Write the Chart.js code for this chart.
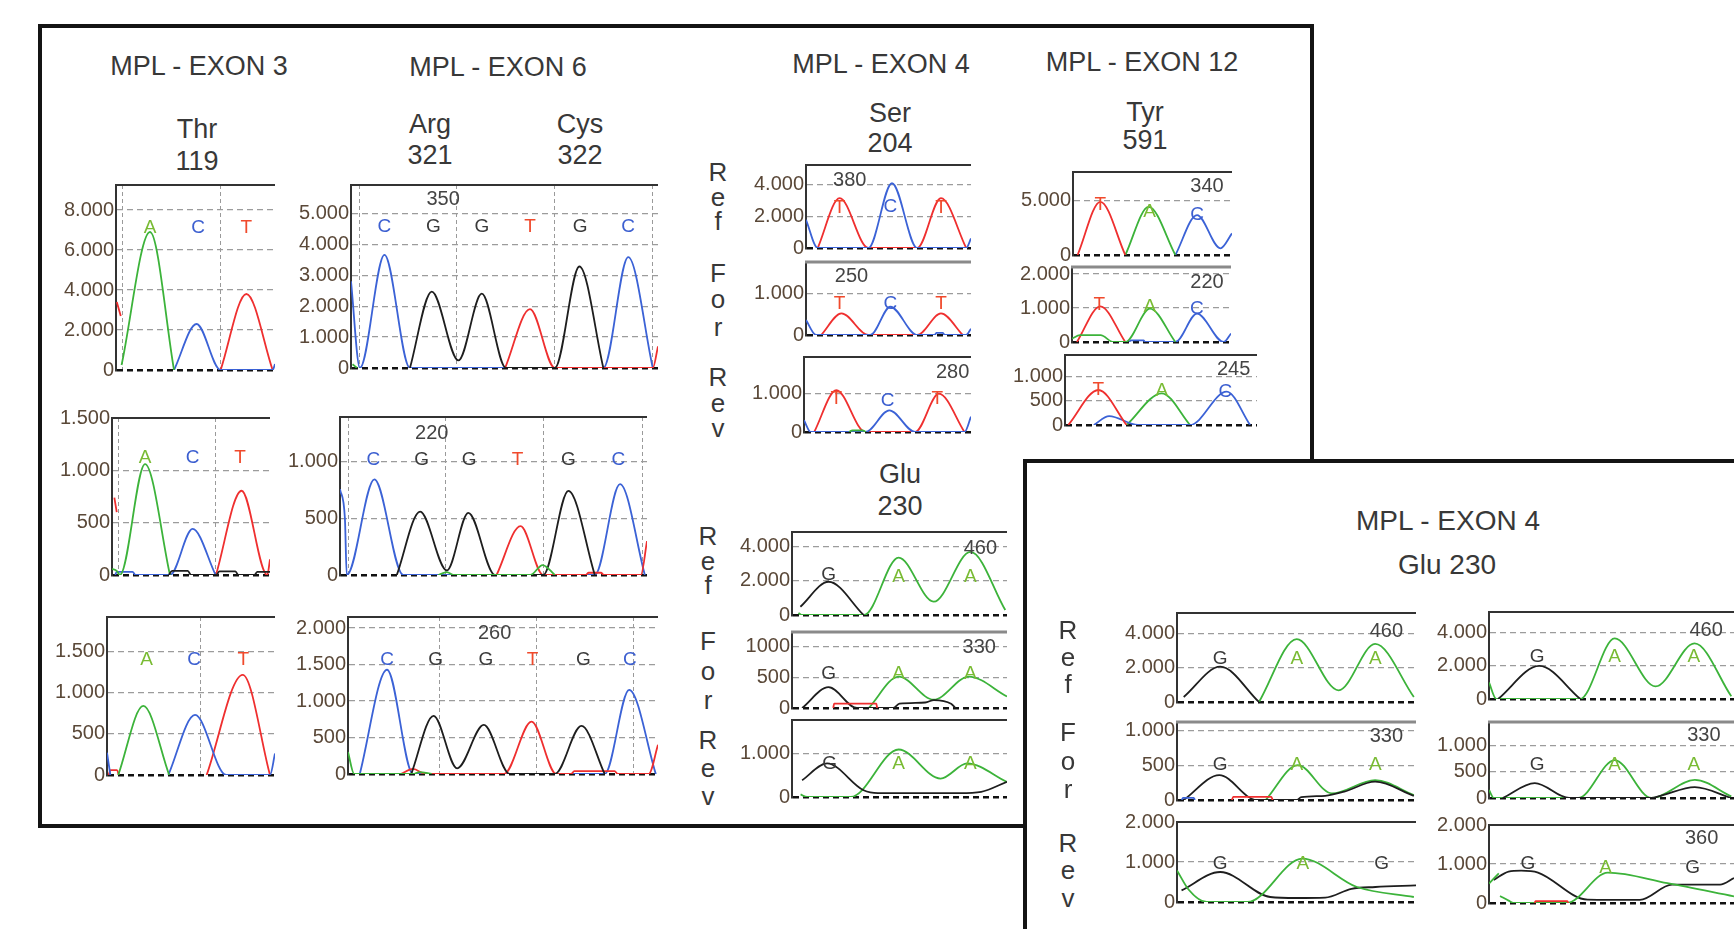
<!DOCTYPE html>
<html>
<head>
<meta charset="utf-8">
<script src="https://cdn.jsdelivr.net/npm/chart.js@4.4.1/dist/chart.umd.min.js"></script>
<style>
  body { margin: 0; width: 1734px; height: 929px; overflow: hidden; position: relative; background: #fff;
         font-family: "Liberation Sans", Arial, sans-serif; }
  .box { position: absolute; border: 4px solid #141414; background: #fff; }
  .t { position: absolute; transform: translate(-50%, -50%); white-space: nowrap; color: #383838; line-height: 1; }
  canvas { position: absolute; }
</style>
</head>
<body>
<div class="box" id="mainBox" style="left:38px;top:24px;width:1268px;height:796px;z-index:0"></div>
<div class="box" id="insetBox" style="left:1023px;top:459px;width:800px;height:600px;z-index:3"></div>
<script>
// ------------------ DATA ------------------
// x = position inside the trace window (0-100), y = signal intensity
// null y breaks a trace

// MPL - EXON 3, Thr 119
const e3Ref_A = [[3.5,250],[21.4,6900],[36.5,0]];
const e3Ref_C = [[36.5,0],[50.7,2300],[65.8,0],[98.5,0],[100,300]];
const e3Ref_T = [[0.5,3400],[3,2700],[3.2,null],[65.8,0],[82,3800],[98.5,0]];
const e3Ref_bases = [[21.4,7100,"A"],[51.6,7100,"C"],[82,7100,"T"]];
const e3Ref_gridX = [3.8,66];
const e3Ref_ticks = [0,2000,4000,6000,8000];
const e3Ref_labels = ["0","2.000","4.000","6.000","8.000"];

const e3For_A = [[0,60],[3,40],[5,0],[20.9,1060],[36.7,0]];
const e3For_C = [[2,0],[3,30],[13,30],[15,0],[36.7,0],[51,440],[65.6,0]];
const e3For_G = [[36,0],[38,40],[48,40],[50,0],[66,0],[68,35],[78,35],[80,0],[90,0],[92,30],[100,30]];
const e3For_T = [[1.5,740],[3,600],[3.2,null],[65.8,0],[82,805],[98.3,0],[100,150]];
const e3For_bases = [[20.9,1124,"A"],[51,1124,"C"],[81,1124,"T"]];
const e3For_gridX = [4,65.6];
const e3For_ticks = [0,500,1000,1500];
const e3For_labels = ["0","500","1.000","1.500"];

const e3Rev_A = [[6.7,0],[21.6,838],[37,0]];
const e3Rev_C = [[0,270],[2,0],[2.2,null],[36.5,0],[52.4,729],[71,0],[97,0],[100,260]];
const e3Rev_T = [[1,0],[2,60],[6,60],[7,0],[7.2,null],[59.3,0],[80.8,1215],[97,0]];
const e3Rev_bases = [[23.6,1397,"A"],[51.8,1397,"C"],[81.1,1397,"T"]];
const e3Rev_gridX = [55.4];
const e3Rev_ticks = [0,500,1000,1500];
const e3Rev_labels = ["0","500","1.000","1.500"];

// MPL - EXON 6, Arg 321 / Cys 322
const e6Ref_C = [[0,2800],[2.9,0],[10.9,3655],[19.2,0],[82.2,0],[90.3,3580],[98.3,0]];
const e6Ref_G = [[19.2,0],[26.3,2470],[35,245],[42.6,2400],[50.5,0],[66.4,0],[74.4,3280],[82.2,0]];
const e6Ref_T = [[50.2,0],[58.3,1900],[66.4,0],[98.3,0],[100,700]];
const e6Ref_A = [[0.5,120],[2,0]];
const e6Ref_bases = [[10.9,4570,"C"],[26.8,4570,"G"],[42.6,4570,"G"],[58.3,4570,"T"],[74.6,4570,"G"],[90.3,4570,"C"]];
const e6Ref_notes = [[30,5450,"350"]];
const e6Ref_gridX = [2.9,34.4,66.4,98.3];
const e6Ref_ticks = [0,1000,2000,3000,4000,5000];
const e6Ref_labels = ["0","1.000","2.000","3.000","4.000","5.000"];

const e6For_C = [[0,760],[1.6,500],[2.2,0],[11.2,845],[20.6,0],[83,0],[91.2,803],[99.3,0]];
const e6For_G = [[18.5,0],[26.1,560],[34.8,40],[41.8,550],[50.5,0],[66.2,0],[74.4,744],[83,0]];
const e6For_T = [[51,0],[58.8,432],[66.2,0],[80,0],[81,20],[85,20],[86,0],[98,0],[100,300]];
const e6For_A = [[32,0],[34.8,25],[37,0],[62,0],[66,88],[70,0]];
const e6For_bases = [[10.9,1015,"C"],[26.6,1015,"G"],[42.1,1015,"G"],[57.8,1015,"T"],[74.4,1015,"G"],[90.7,1015,"C"]];
const e6For_notes = [[29.9,1250,"220"]];
const e6For_gridX = [2.7,34.5,66.4,98.6];
const e6For_ticks = [0,500,1000];
const e6For_labels = ["0","500","1.000"];

const e6Rev_C = [[3.8,0],[12.6,1429],[21,0],[82.8,0],[90.7,1154],[99.3,0]];
const e6Rev_G = [[20.4,0],[27.6,797],[35.2,78],[43.8,673],[52.2,0],[66.7,0],[75.3,659],[82.8,0]];
const e6Rev_T = [[17,0],[21,70],[25,0],[50.3,0],[59.2,718],[67.2,0],[72,0],[73,40],[86,40],[87,0],[97,0],[100,400]];
const e6Rev_A = [[0,300],[2,0],[21,0],[23,25],[27,0]];
const e6Rev_bases = [[12.6,1566,"C"],[28.3,1566,"G"],[44.5,1566,"G"],[59.5,1566,"T"],[75.9,1566,"G"],[90.9,1566,"C"]];
const e6Rev_notes = [[47.3,1932,"260"]];
const e6Rev_gridX = [29.4,60.8,92];
const e6Rev_ticks = [0,500,1000,1500,2000];
const e6Rev_labels = ["0","500","1.000","1.500","2.000"];

// MPL - EXON 4, Ser 204
const serRef_C = [[0,1770],[7.1,0],[37.8,0],[52.1,4060],[67.4,0],[97.1,0],[100,600]];
const serRef_T = [[7.1,0],[20.4,3125],[37.8,0],[67.4,0],[81.8,3125],[97.1,0]];
const serRef_bases = [[20.4,2500,"T"],[51.1,2600,"C"],[81.8,2500,"T"]];
const serRef_notes = [[26.5,4230,"380"]];
const serRef_ticks = [0,2000,4000];
const serRef_labels = ["0","2.000","4.000"];

const serFor_C = [[0,360],[6.1,0],[39,0],[51.1,680],[67.4,0],[78,0],[79,50],[83,50],[84,0],[97,0],[100,150]];
const serFor_T = [[9.2,0],[21.5,520],[37.8,0],[67.4,0],[81.8,520],[95,0]];
const serFor_bases = [[20.4,760,"T"],[51.1,760,"C"],[81.8,760,"T"]];
const serFor_notes = [[27.6,1400,"250"]];
const serFor_ticks = [0,1000];
const serFor_labels = ["0","1.000"];

const serRev_C = [[0,305],[4,0],[36.8,0],[51.1,565],[66.5,0],[96.1,0],[100,400]];
const serRev_T = [[6.1,0],[19.4,1090],[36.8,0],[66.5,0],[80.8,1000],[96.1,0]];
const serRev_A = [[27,0],[29,45],[35,45],[37,0]];
const serRev_bases = [[19.4,870,"T"],[50.1,825,"C"],[79.8,870,"T"]];
const serRev_notes = [[89,1560,"280"]];
const serRev_ticks = [0,1000];
const serRev_labels = ["0","1.000"];

// MPL - EXON 4, Glu 230
const gluRef_G = [[3.9,485],[17,1950],[33.3,0]];
const gluRef_A = [[3,120],[4.5,0],[33.5,0],[49.6,3370],[65.9,780],[83,3700],[99.2,290]];
const gluRef_bases = [[17,2340,"G"],[49.6,2240,"A"],[83,2240,"A"]];
const gluRef_notes = [[87.6,3900,"460"]];
const gluRef_ticks = [0,2000,4000];
const gluRef_labels = ["0","2.000","4.000"];

const gluFor_G = [[4.7,0],[17,341],[30.2,0],[47,0],[50,70],[62,90],[66,130],[74,70],[76,0]];
const gluFor_T = [[19.2,0],[19.6,70],[39.2,70],[39.6,0]];
const gluFor_A = [[35.7,0],[49.6,513],[65.9,135],[82.2,513],[100,188]];
const gluFor_bases = [[17,557,"G"],[49.6,557,"A"],[83,557,"A"]];
const gluFor_notes = [[87.1,990,"330"]];
const gluFor_ticks = [0,500,1000];
const gluFor_labels = ["0","500","1000"];

const gluRev_G = [[4.7,385],[16.3,770],[33.3,155],[40,90],[78,90],[88,120],[100,350]];
const gluRev_A = [[4,60],[7,0],[27.3,0],[49.6,1090],[69.1,423],[81.5,770],[100,345]];
const gluRev_bases = [[17.5,770,"G"],[49.6,770,"A"],[83,770,"A"]];
const gluRev_ticks = [0,1000];
const gluRev_labels = ["0","1.000"];

// MPL - EXON 12, Tyr 591
const e12Ref_T = [[2.9,0],[17.2,4850],[32.9,0]];
const e12Ref_A = [[32.9,0],[47.6,4390],[64.4,0]];
const e12Ref_C = [[64.4,0],[78,3640],[92.7,610],[100,1970]];
const e12Ref_bases = [[17.2,4550,"T"],[48.2,3940,"A"],[78,3640,"C"]];
const e12Ref_notes = [[84.3,6210,"340"]];
const e12Ref_ticks = [0,5000];
const e12Ref_labels = ["0","5.000"];

const e12For_A = [[0,100],[5,200],[18,200],[26,0],[33.5,0],[49,980],[65,0]];
const e12For_T = [[3.1,0],[17.8,1050],[33.5,0]];
const e12For_C = [[36,0],[37,50],[45,50],[46,0],[65,0],[78.6,835],[95.4,0],[100,250]];
const e12For_bases = [[17.1,1100,"T"],[49,1050,"A"],[78.6,980,"C"]];
const e12For_notes = [[84.9,1750,"220"]];
const e12For_ticks = [0,1000,2000];
const e12For_labels = ["0","1.000","2.000"];

const e12Rev_T = [[1.7,0],[17.4,725],[32.1,0]];
const e12Rev_C = [[15,0],[23,185],[38,0],[65.1,0],[84.2,690],[96.4,0]];
const e12Rev_A = [[32.1,0],[50.4,655],[65.1,0]];
const e12Rev_bases = [[17.4,725,"T"],[50.4,700,"A"],[83.5,690,"C"]];
const e12Rev_notes = [[87.8,1140,"245"]];
const e12Rev_ticks = [0,500,1000];
const e12Rev_labels = ["0","500","1.000"];

// inset: MPL - EXON 4, Glu 230 (two samples)
const insLRef_G = [[2.8,290],[18.1,2050],[34.3,0]];
const insLRef_A = [[34.3,0],[50.1,3650],[67.6,680],[82.9,3375],[99.1,290]];
const insLRef_bases = [[18.1,2540,"G"],[50.1,2540,"A"],[83,2540,"A"]];
const insLRef_notes = [[87.6,4100,"460"]];

const insLFor_G = [[2.8,0],[17.7,357],[33.3,0],[50,0],[52,40],[62,60],[70,120],[82.9,262],[99.1,60]];
const insLFor_A = [[37.1,0],[50.5,500],[64.8,95],[82.9,285],[99.1,70]];
const insLFor_T = [[23,0],[23.5,45],[39.5,45],[40,0]];
const insLFor_C = [[2,0],[2.5,30],[7,30],[7.5,0]];
const insLFor_bases = [[18.1,500,"G"],[50.1,500,"A"],[83,500,"A"]];
const insLFor_notes = [[87.6,905,"330"]];

const insLRev_G = [[1.9,290],[18.1,750],[39,125],[50,100],[62,110],[73,330],[83,375],[100,415]];
const insLRev_A = [[0,790],[5,300],[12.4,0],[29.5,0],[52.4,1085],[75.3,375],[99.1,125]];
const insLRev_bases = [[18.1,960,"G"],[52.7,960,"A"],[85.6,960,"G"]];

const insRRef_G = [[3.7,0],[20.5,2000],[37.3,0]];
const insRRef_A = [[0,1000],[3,0],[37.1,0],[51.3,3660],[68,760],[83.9,3360],[98.9,160]];
const insRRef_bases = [[19.6,2540,"G"],[51.3,2540,"A"],[83.6,2540,"A"]];
const insRRef_notes = [[88.6,4160,"460"]];

const insRFor_G = [[5.6,0],[18.7,281],[32.7,0],[66.3,0],[70,40],[84,206],[98.9,0]];
const insRFor_A = [[0,150],[2,0],[36.4,0],[51.3,718],[66.3,0],[84,343],[98.9,30]];
const insRFor_bases = [[19.6,625,"G"],[51.3,625,"A"],[83.6,625,"A"]];
const insRFor_notes = [[87.7,1188,"330"]];

const insRRev_G = [[1.9,590],[8,806],[13.1,830],[20,780],[40.2,85],[50,80],[61.6,80],[74.7,470],[94.3,470],[100,640]];
const insRRev_A = [[0,500],[4,760],[4.2,null],[4.5,180],[8,60],[10,0],[31.7,0],[48.5,780],[72.8,510],[100,170]];
const insRRev_T = [[18.6,0],[19,50],[32,50],[32.4,0]];
const insRRev_bases = [[15.9,1000,"G"],[47.6,915,"A"],[83.1,915,"G"]];
const insRRev_notes = [[86.8,1660,"360"]];

const insRef_ticks = [0,2000,4000];
const insRef_labels = ["0","2.000","4.000"];
const insFor_ticks = [0,500,1000];
const insFor_labels = ["0","500","1.000"];
const insRev_ticks = [0,1000,2000];
const insRev_labels = ["0","1.000","2.000"];

// ------------------ STYLE ------------------
const traceColor = { A: "#3cb33a", C: "#3b62d6", G: "#1e1e1e", T: "#ef2f2f" };
const baseColor = { A: "#79bb33", C: "#3c5fd0", G: "#3a3a3a", T: "#f04a2c" };
const tickColor = "#5a4838";
const fontFamily = '"Liberation Sans", Arial, sans-serif';

// ------------------ LAYOUT ------------------
// plot rectangles in page pixels, y ranges per panel
const panels = [
  { l:116, t:185, r:275, b:370, yMax:9250, ticks:e3Ref_ticks, labels:e3Ref_labels, gridX:e3Ref_gridX, traces:{A:e3Ref_A, C:e3Ref_C, T:e3Ref_T}, bases:e3Ref_bases },
  { l:112, t:418, r:270, b:575, yMax:1500, ticks:e3For_ticks, labels:e3For_labels, gridX:e3For_gridX, traces:{G:e3For_G, A:e3For_A, C:e3For_C, T:e3For_T}, bases:e3For_bases },
  { l:107, t:617, r:275, b:775, yMax:1916, ticks:e3Rev_ticks, labels:e3Rev_labels, gridX:e3Rev_gridX, traces:{A:e3Rev_A, C:e3Rev_C, T:e3Rev_T}, bases:e3Rev_bases },

  { l:351, t:185, r:658, b:368, yMax:5913, ticks:e6Ref_ticks, labels:e6Ref_labels, gridX:e6Ref_gridX, traces:{A:e6Ref_A, G:e6Ref_G, T:e6Ref_T, C:e6Ref_C}, bases:e6Ref_bases, notes:e6Ref_notes },
  { l:340, t:417, r:647, b:575, yMax:1397, ticks:e6For_ticks, labels:e6For_labels, gridX:e6For_gridX, traces:{A:e6For_A, G:e6For_G, T:e6For_T, C:e6For_C}, bases:e6For_bases, notes:e6For_notes },
  { l:348, t:617, r:658, b:774, yMax:2152, ticks:e6Rev_ticks, labels:e6Rev_labels, gridX:e6Rev_gridX, traces:{A:e6Rev_A, G:e6Rev_G, T:e6Rev_T, C:e6Rev_C}, bases:e6Rev_bases, notes:e6Rev_notes },

  { l:806, t:165, r:971, b:248, yMax:5206, ticks:serRef_ticks, labels:serRef_labels, traces:{C:serRef_C, T:serRef_T}, bases:serRef_bases, notes:serRef_notes, padR:0 },
  { l:806, t:262, r:971, b:335, yMax:1758, ticks:serFor_ticks, labels:serFor_labels, traces:{C:serFor_C, T:serFor_T}, bases:serFor_bases, notes:serFor_notes, padR:0, top:"#8a8a8a" },
  { l:804, t:357, r:971, b:432, yMax:1957, ticks:serRev_ticks, labels:serRev_labels, traces:{A:serRev_A, C:serRev_C, T:serRev_T}, bases:serRev_bases, notes:serRev_notes, padR:0 },

  { l:792, t:532, r:1007, b:615, yMax:4870, ticks:gluRef_ticks, labels:gluRef_labels, traces:{G:gluRef_G, A:gluRef_A}, bases:gluRef_bases, notes:gluRef_notes },
  { l:792, t:632, r:1007, b:708, yMax:1243, ticks:gluFor_ticks, labels:gluFor_labels, traces:{T:gluFor_T, G:gluFor_G, A:gluFor_A}, bases:gluFor_bases, notes:gluFor_notes, top:"#8a8a8a" },
  { l:792, t:720, r:1007, b:797, yMax:1767, ticks:gluRev_ticks, labels:gluRev_labels, traces:{G:gluRev_G, A:gluRev_A}, bases:gluRev_bases },

  { l:1073, t:172, r:1232, b:255, yMax:7573, ticks:e12Ref_ticks, labels:e12Ref_labels, traces:{T:e12Ref_T, A:e12Ref_A, C:e12Ref_C}, bases:e12Ref_bases, notes:e12Ref_notes },
  { l:1072, t:267, r:1231, b:342, yMax:2206, ticks:e12For_ticks, labels:e12For_labels, traces:{A:e12For_A, T:e12For_T, C:e12For_C}, bases:e12For_bases, notes:e12For_notes, top:"#8a8a8a" },
  { l:1065, t:355, r:1257, b:425, yMax:1449, ticks:e12Rev_ticks, labels:e12Rev_labels, traces:{T:e12Rev_T, C:e12Rev_C, A:e12Rev_A}, bases:e12Rev_bases, notes:e12Rev_notes },

  { l:1177, t:613, r:1416, b:702, yMax:5170, ticks:insRef_ticks, labels:insRef_labels, traces:{G:insLRef_G, A:insLRef_A}, bases:insLRef_bases, notes:insLRef_notes, inset:true },
  { l:1177, t:722, r:1416, b:800, yMax:1118, ticks:insFor_ticks, labels:insFor_labels, traces:{C:insLFor_C, T:insLFor_T, G:insLFor_G, A:insLFor_A}, bases:insLFor_bases, notes:insLFor_notes, inset:true, top:"#8a8a8a" },
  { l:1177, t:822, r:1416, b:902, yMax:2000, ticks:insRev_ticks, labels:insRev_labels, traces:{A:insLRev_A, G:insLRev_G}, bases:insLRev_bases, inset:true },

  { l:1489, t:612, r:1734, b:699, yMax:5260, ticks:insRef_ticks, labels:insRef_labels, traces:{G:insRRef_G, A:insRRef_A}, bases:insRRef_bases, notes:insRRef_notes, inset:true, padR:0 },
  { l:1489, t:722, r:1734, b:798, yMax:1437, ticks:insFor_ticks, labels:insFor_labels, traces:{G:insRFor_G, A:insRFor_A}, bases:insRFor_bases, notes:insRFor_notes, inset:true, padR:0, top:"#8a8a8a" },
  { l:1489, t:825, r:1734, b:903, yMax:2000, ticks:insRev_ticks, labels:insRev_labels, traces:{T:insRRev_T, A:insRRev_A, G:insRRev_G}, bases:insRRev_bases, notes:insRRev_notes, inset:true, padR:0 }
];

// free text: [text, centre x, centre y, font size, inset?]
const texts = [
  ["MPL - EXON 3", 199, 66, 27], ["Thr", 197, 129, 27], ["119", 197, 161, 27],
  ["MPL - EXON 6", 498, 67, 27], ["Arg", 430, 124, 27], ["321", 430, 155, 27], ["Cys", 580, 124, 27], ["322", 580, 155, 27],
  ["MPL - EXON 4", 881, 64, 27], ["Ser", 890, 113, 27], ["204", 890, 143, 27],
  ["Glu", 900, 474, 27], ["230", 900, 506, 27],
  ["MPL - EXON 12", 1142, 62, 27], ["Tyr", 1145, 112, 27], ["591", 1145, 140, 27],
  ["MPL - EXON 4", 1448, 521, 28, true], ["Glu 230", 1447, 565, 28, true]
];
// stacked row names: [word, x, y of each letter, inset?]
const stacks = [
  ["Ref", 718, [172,197,221]], ["For", 718, [273,299,327]], ["Rev", 718, [377,403,428]],
  ["Ref", 708, [536,561,585]], ["For", 708, [641,671,700]], ["Rev", 708, [740,768,796]],
  ["Ref", 1068, [630,657,684], true], ["For", 1068, [732,761,789], true], ["Rev", 1068, [843,870,898], true]
];

// ------------------ DRAW ------------------
Chart.defaults.font.family = fontFamily;

function addText(str, x, y, size, inset) {
  const d = document.createElement("div");
  d.className = "t";
  d.textContent = str;
  d.style.left = x + "px";
  d.style.top = y + "px";
  d.style.fontSize = size + "px";
  d.style.zIndex = inset ? 4 : 1;
  document.body.appendChild(d);
}
texts.forEach(t => addText(t[0], t[1], t[2], t[3], t[4]));
stacks.forEach(s => s[0].split("").forEach((ch, i) => addText(ch, s[1], s[2][i], 26, s[3])));

function toPoints(arr) {
  return arr.map(p => ({ x: p[0], y: p[1] }));
}

function drawPanel(p) {
  const axisW = 64, padT = 14, padB = 14;
  const padR = p.padR !== undefined ? p.padR : 4;
  const cv = document.createElement("canvas");
  cv.width = axisW + (p.r - p.l) + padR;
  cv.height = padT + (p.b - p.t) + padB;
  cv.style.left = (p.l - axisW) + "px";
  cv.style.top = (p.t - padT) + "px";
  cv.style.zIndex = p.inset ? 5 : 2;
  document.body.appendChild(cv);

  const gridX = p.gridX || [];
  const datasets = Object.keys(p.traces).map(b => ({
    label: b,
    data: toPoints(p.traces[b]),
    borderColor: traceColor[b],
    borderWidth: 1.8,
    pointRadius: 0,
    cubicInterpolationMode: "monotone",
    spanGaps: false
  }));

  // frame top line + base calls + numbers
  const overlay = {
    id: "overlay",
    afterDatasetsDraw(chart) {
      const { ctx, chartArea: a, scales: { x, y } } = chart;
      ctx.save();
      ctx.strokeStyle = p.top || "#333";
      ctx.lineWidth = p.top ? 3 : 2;
      ctx.beginPath();
      ctx.moveTo(a.left - 1, a.top);
      ctx.lineTo(a.right, a.top);
      ctx.stroke();
      ctx.textAlign = "center";
      ctx.textBaseline = "middle";
      ctx.font = "19px " + fontFamily;
      (p.bases || []).forEach(([bx, by, b]) => {
        ctx.fillStyle = baseColor[b];
        ctx.fillText(b, x.getPixelForValue(bx), y.getPixelForValue(by));
      });
      ctx.font = "20px " + fontFamily;
      ctx.fillStyle = "#444";
      (p.notes || []).forEach(([nx, ny, t]) => {
        ctx.fillText(t, x.getPixelForValue(nx), y.getPixelForValue(ny));
      });
      ctx.restore();
    }
  };

  new Chart(cv, {
    type: "line",
    data: { datasets },
    plugins: [overlay],
    options: {
      responsive: false,
      animation: false,
      events: [],
      layout: { padding: { top: padT, right: padR, left: 0, bottom: 0 } },
      plugins: { legend: { display: false }, tooltip: { enabled: false } },
      scales: {
        x: {
          type: "linear", min: 0, max: 100,
          afterBuildTicks: s => { s.ticks = gridX.map(v => ({ value: v })); },
          afterFit: s => { s.height = padB; },
          ticks: { display: false },
          grid: { display: gridX.length > 0, color: "#9a9a9a", lineWidth: 1, drawTicks: false },
          border: { display: false, dash: [4, 3] }
        },
        y: {
          type: "linear", min: 0, max: p.yMax,
          afterBuildTicks: s => { s.ticks = p.ticks.map(v => ({ value: v })); },
          afterFit: s => { s.width = axisW; },
          ticks: {
            autoSkip: false,
            callback: (v, i) => p.labels[i],
            font: { size: 20 },
            color: tickColor,
            padding: 2
          },
          grid: {
            color: c => (c.tick && c.tick.value === 0 ? "#111" : "#9c9c9c"),
            lineWidth: c => (c.tick && c.tick.value === 0 ? 2.5 : 1.2),
            drawTicks: false
          },
          border: { display: true, color: "#333", width: 2, dash: [6, 4] }
        }
      }
    }
  });
}

panels.forEach(drawPanel);
</script>
</body>
</html>
